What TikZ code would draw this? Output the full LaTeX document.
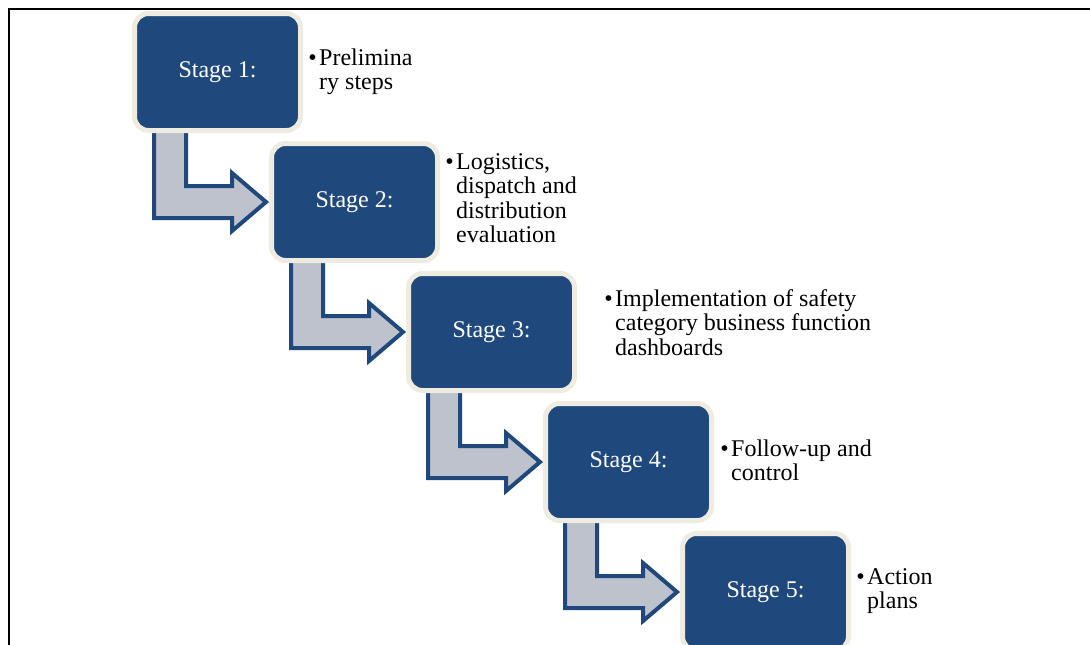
\documentclass[tikz,border=0pt]{standalone}
\usepackage{fontspec}
\setmainfont{Liberation Serif}
\usetikzlibrary{calc}
\definecolor{stageblue}{HTML}{1F497D}
\definecolor{stagecream}{HTML}{EEECE1}
\definecolor{arrowfill}{HTML}{BEC2CD}
\tikzset{
  stagebox/.style={fill=stageblue, draw=stagecream, line width=5pt, rounded corners=14pt,
    minimum width=166pt, minimum height=117pt, text=white, inner sep=0pt,
    font=\fontsize{24}{26}\selectfont},
  bentarrow/.style={fill=arrowfill, draw=stageblue, line width=4pt, line join=miter},
  itemtext/.style={anchor=base west, inner sep=0pt, align=left},
  frameline/.style={draw=black, line width=1.5pt}
}
\newcommand\itemblock[1]{\parbox[t]{400pt}{\fontsize{24}{24.5}\selectfont\raggedright\leavevmode\llap{\textbullet\hspace{2.5pt}}#1}}
\newcommand\stagearrow[2]{%
  \draw[bentarrow] ($(#1)+(-63.5,40)$) -- ($(#1)+(-63.5,146)$)
    -- ($(#1)+(14.5,146)$) -- ($(#1)+(14.5,159)$)
    -- ($(#2)+(-88.5,0)$)
    -- ($(#1)+(14.5,101)$) -- ($(#1)+(14.5,114)$)
    -- ($(#1)+(-31.5,114)$) -- ($(#1)+(-31.5,40)$) -- cycle;}
\begin{document}
\begin{tikzpicture}[x=1pt,y=-1pt]
\useasboundingbox (0,0) rectangle (1090,645);
\draw[frameline] (9,646) -- (9,9) -- (1091,9);
\path (217.5,72) coordinate (c1) (354.5,202) coordinate (c2) (491.5,332) coordinate (c3)
      (628.5,462) coordinate (c4) (765.5,592) coordinate (c5);
\stagearrow{c1}{c2}
\stagearrow{c2}{c3}
\stagearrow{c3}{c4}
\stagearrow{c4}{c5}
\node[stagebox] (s1) at (c1) {Stage 1:};
\node[stagebox] (s2) at (c2) {Stage 2:};
\node[stagebox] (s3) at (c3) {Stage 3:};
\node[stagebox] (s4) at (c4) {Stage 4:};
\node[stagebox] (s5) at (c5) {Stage 5:};
\node[itemtext] (t1) at (319,65) {\itemblock{Prelimina\\ry steps}};
\node[itemtext] (t2) at (456,169) {\itemblock{Logistics,\\dispatch and\\distribution\\evaluation}};
\node[itemtext] (t3) at (615,306) {\itemblock{Implementation of safety\\category business function\\dashboards}};
\node[itemtext] (t4) at (731,456) {\itemblock{Follow-up and\\control}};
\node[itemtext] (t5) at (867,584) {\itemblock{Action\\plans}};
\end{tikzpicture}
\end{document}
